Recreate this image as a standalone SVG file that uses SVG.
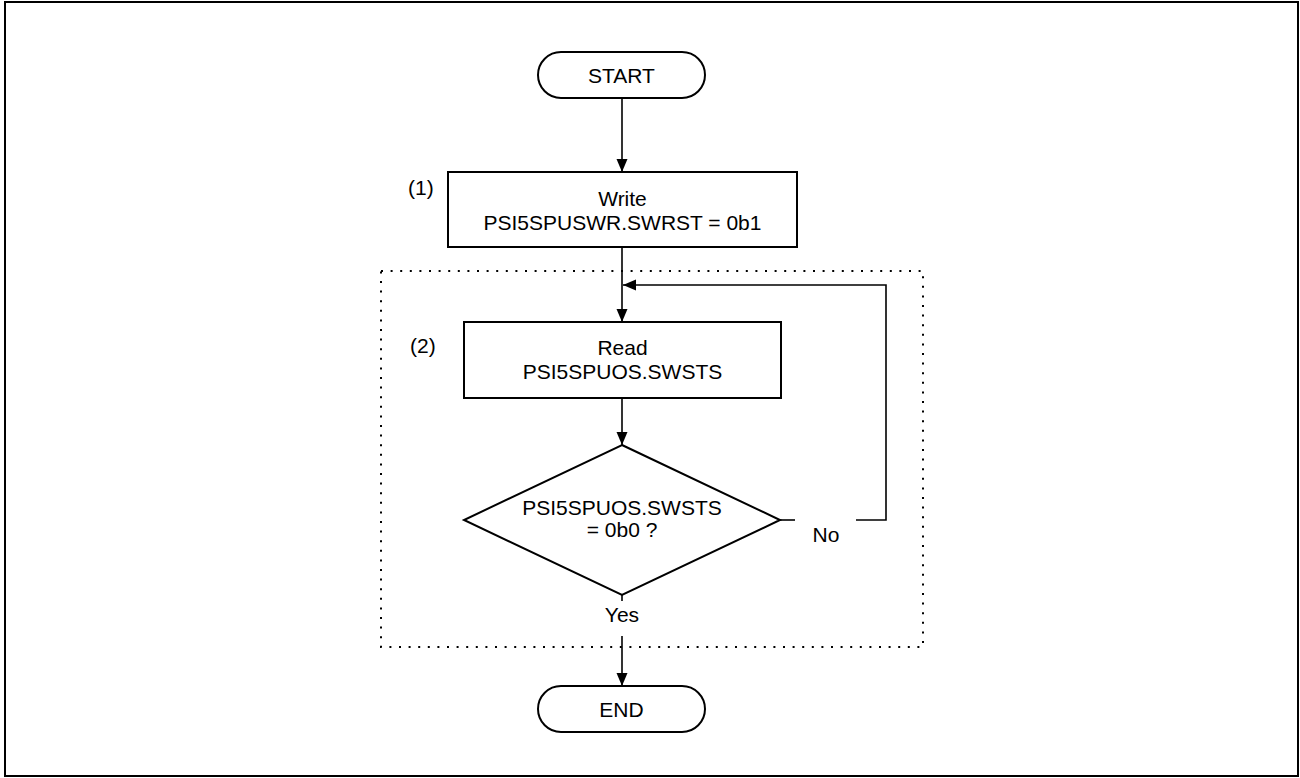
<svg xmlns="http://www.w3.org/2000/svg" width="1300" height="778" viewBox="0 0 1300 778">
<defs>
<style>
.box{fill:#fff;stroke:#000;stroke-width:2}
.ln{fill:none;stroke:#000;stroke-width:1.6}
.t{font-family:"Liberation Sans",Arial,sans-serif;font-size:21px;fill:#000}
.c{text-anchor:middle}
.dot{fill:none;stroke:#000;stroke-width:2;stroke-dasharray:2 7.6}
</style>
<marker id="ah" viewBox="0 0 13 12" refX="13" refY="6" markerWidth="13" markerHeight="12" markerUnits="userSpaceOnUse" orient="auto">
<path d="M0,0.5 L13,6 L0,11.5 Z" fill="#000"/>
</marker>
</defs>
<rect x="0" y="0" width="1300" height="778" fill="#fff"/>
<rect id="frame" x="5" y="2" width="1293" height="774" fill="none" stroke="#000" stroke-width="2"/>
<rect id="loop-area" class="dot" x="381" y="271" width="542" height="376"/>

<g id="connectors">
<line class="ln" x1="622" y1="98" x2="622" y2="172" marker-end="url(#ah)"/>
<line class="ln" x1="622" y1="247" x2="622" y2="322" marker-end="url(#ah)"/>
<line class="ln" x1="622" y1="398" x2="622" y2="445" marker-end="url(#ah)"/>
<polyline class="ln" points="780,520 795,520"/>
<polyline class="ln" points="856,520 886,520 886,285 623,285" marker-end="url(#ah)"/>
<line class="ln" x1="622" y1="595" x2="622" y2="601"/>
<line class="ln" x1="622" y1="636" x2="622" y2="686" marker-end="url(#ah)"/>
</g>

<g id="start">
<rect class="box" x="538" y="52" width="167" height="46" rx="23" ry="23"/>
<text class="t c" x="621.5" y="82.5">START</text>
</g>

<g id="step1">
<rect class="box" x="448" y="172" width="349" height="75"/>
<text class="t c" x="622.5" y="206">Write</text>
<text class="t c" x="622.5" y="230">PSI5SPUSWR.SWRST = 0b1</text>
<text class="t" x="408" y="195">(1)</text>
</g>

<g id="step2">
<rect class="box" x="464" y="322" width="317" height="76"/>
<text class="t c" x="622.5" y="355">Read</text>
<text class="t c" x="622.5" y="379">PSI5SPUOS.SWSTS</text>
<text class="t" x="410" y="353">(2)</text>
</g>

<g id="decision">
<polygon class="box" points="622,445 780,520 622,595 464,520"/>
<text class="t c" x="622" y="515">PSI5SPUOS.SWSTS</text>
<text class="t c" x="622" y="537">= 0b0 ?</text>
</g>

<text class="t c" x="826" y="542">No</text>
<text class="t c" x="622" y="622">Yes</text>

<g id="end">
<rect class="box" x="538" y="686" width="167" height="46" rx="23" ry="23"/>
<text class="t c" x="621.5" y="716.5">END</text>
</g>
</svg>
